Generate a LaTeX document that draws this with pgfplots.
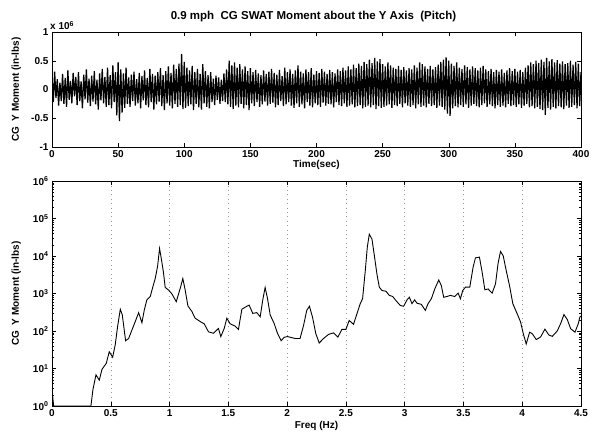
\documentclass[border=0pt]{standalone}
\usepackage{fontspec}
\setmainfont{Liberation Sans}
\usepackage{pgfplots}
\pgfplotsset{compat=1.18}
\begin{document}
\begin{tikzpicture}
\path[use as bounding box] (-52pt,-27pt) rectangle (543pt,406pt);
\pgfplotsset{every axis/.append style={
  font=\fontsize{10}{12}\selectfont\bfseries,
  /pgf/number format/assume math mode=true,
  scale only axis, width=529pt,
  tick style={black, thin}, axis line style={black, thin},
  major tick length=4pt, minor tick length=2pt,
  ylabel style={at={(axis description cs:-0.052,0.5)}, anchor=south, rotate=0},
}}
% ---------------- top: time history ----------------
\begin{axis}[name=top, at={(0pt,259pt)}, anchor=south west, height=115pt,
  xmin=0, xmax=400, ymin=-1, ymax=1,
  xtick={0,50,...,400},
  ytick={-1,-0.5,0,0.5,1}, yticklabels={-1,-0.5,0,0.5,1},
  title={0.9 mph\ \ CG SWAT Moment about the Y Axis\ \ (Pitch)},
  title style={font=\fontsize{11.5}{13}\selectfont\bfseries, yshift=1pt, xshift=-3pt},
  xlabel={Time(sec)}, xlabel style={yshift=4pt},
  ylabel={CG\ \ Y Moment (in-lbs)},
  clip=true]
\addplot[black, line width=1.25pt, line join=miter, miter limit=1] coordinates {
(0,0.25)(1,-0.22)(2,0.31)(3,-0.15)(4,0.18)(5,-0.28)(6,0.12)(7,-0.20)(8,0.27)(9,-0.25)
(10,0.20)(11,-0.30)(12,0.33)(13,-0.18)(14,0.15)(15,-0.24)(16,0.29)(17,-0.12)(18,0.22)(19,-0.27)
(20,0.30)(21,-0.20)(22,0.14)(23,-0.33)(24,0.26)(25,-0.17)(26,0.35)(27,-0.23)(28,0.19)(29,-0.29)
(30,0.24)(31,-0.21)(32,0.32)(33,-0.26)(34,0.17)(35,-0.35)(36,0.28)(37,-0.19)(38,0.36)(39,-0.24)
(40,0.22)(41,-0.30)(42,0.38)(43,-0.27)(44,0.25)(45,-0.33)(46,0.42)(47,-0.22)(48,0.30)(49,-0.45)
(50,0.47)(51,-0.55)(52,0.35)(53,-0.40)(54,0.28)(55,-0.32)(56,0.38)(57,-0.25)(58,0.21)(59,-0.30)
(60,0.26)(61,-0.20)(62,0.31)(63,-0.28)(64,0.18)(65,-0.24)(66,0.29)(67,-0.33)(68,0.23)(69,-0.19)
(70,0.33)(71,-0.27)(72,0.20)(73,-0.31)(74,0.36)(75,-0.22)(76,0.27)(77,-0.35)(78,0.24)(79,-0.26)
(80,0.30)(81,-0.21)(82,0.37)(83,-0.29)(84,0.25)(85,-0.36)(86,0.32)(87,-0.24)(88,0.40)(89,-0.28)
(90,0.29)(91,-0.33)(92,0.43)(93,-0.25)(94,0.36)(95,-0.30)(96,0.45)(97,-0.27)(98,0.62)(99,-0.34)
(100,0.48)(101,-0.32)(102,0.38)(103,-0.29)(104,0.33)(105,-0.26)(106,0.41)(107,-0.36)(108,0.30)(109,-0.25)
(110,0.36)(111,-0.31)(112,0.27)(113,-0.35)(114,0.44)(115,-0.24)(116,0.32)(117,-0.30)(118,0.25)(119,-0.33)
(120,0.30)(121,-0.22)(122,0.19)(123,-0.27)(124,0.24)(125,-0.18)(126,0.21)(127,-0.25)(128,0.17)(129,-0.20)
(130,0.28)(131,-0.22)(132,0.35)(133,-0.26)(134,0.50)(135,-0.30)(136,0.42)(137,-0.34)(138,0.47)(139,-0.28)
(140,0.38)(141,-0.31)(142,0.44)(143,-0.25)(144,0.35)(145,-0.33)(146,0.40)(147,-0.27)(148,0.32)(149,-0.36)
(150,0.37)(151,-0.24)(152,0.30)(153,-0.29)(154,0.34)(155,-0.22)(156,0.28)(157,-0.30)(158,0.25)(159,-0.26)
(160,0.33)(161,-0.21)(162,0.27)(163,-0.28)(164,0.31)(165,-0.25)(166,0.36)(167,-0.23)(168,0.29)(169,-0.31)
(170,0.26)(171,-0.27)(172,0.34)(173,-0.20)(174,0.23)(175,-0.29)(176,0.38)(177,-0.26)(178,0.30)(179,-0.22)
(180,0.35)(181,-0.28)(182,0.27)(183,-0.32)(184,0.33)(185,-0.24)(186,0.42)(187,-0.30)(188,0.31)(189,-0.26)
(190,0.28)(191,-0.33)(192,0.35)(193,-0.22)(194,0.30)(195,-0.28)(196,0.37)(197,-0.31)(198,0.26)(199,-0.24)
(200,0.32)(201,-0.27)(202,0.29)(203,-0.30)(204,0.36)(205,-0.23)(206,0.31)(207,-0.28)(208,0.27)(209,-0.25)
(210,0.34)(211,-0.26)(212,0.30)(213,-0.31)(214,0.28)(215,-0.22)(216,0.35)(217,-0.27)(218,0.32)(219,-0.29)
(220,0.38)(221,-0.24)(222,0.33)(223,-0.30)(224,0.40)(225,-0.28)(226,0.35)(227,-0.26)(228,0.43)(229,-0.31)
(230,0.37)(231,-0.29)(232,0.45)(233,-0.27)(234,0.41)(235,-0.33)(236,0.48)(237,-0.30)(238,0.44)(239,-0.28)
(240,0.52)(241,-0.31)(242,0.46)(243,-0.27)(244,0.55)(245,-0.34)(246,0.49)(247,-0.29)(248,0.53)(249,-0.32)
(250,0.44)(251,-0.30)(252,0.40)(253,-0.28)(254,0.47)(255,-0.26)(256,0.42)(257,-0.32)(258,0.38)(259,-0.27)
(260,0.36)(261,-0.29)(262,0.41)(263,-0.25)(264,0.34)(265,-0.31)(266,0.39)(267,-0.24)(268,0.33)(269,-0.28)
(270,0.37)(271,-0.30)(272,0.35)(273,-0.27)(274,0.42)(275,-0.33)(276,0.38)(277,-0.26)(278,0.47)(279,-0.30)
(280,0.44)(281,-0.28)(282,0.40)(283,-0.31)(284,0.36)(285,-0.25)(286,0.41)(287,-0.29)(288,0.35)(289,-0.27)
(290,0.39)(291,-0.32)(292,0.43)(293,-0.28)(294,0.48)(295,-0.30)(296,0.52)(297,-0.35)(298,0.56)(299,-0.42)
(300,0.50)(301,-0.46)(302,0.45)(303,-0.33)(304,0.41)(305,-0.29)(306,0.47)(307,-0.31)(308,0.38)(309,-0.27)
(310,0.36)(311,-0.30)(312,0.42)(313,-0.26)(314,0.39)(315,-0.32)(316,0.35)(317,-0.28)(318,0.40)(319,-0.25)
(320,0.37)(321,-0.29)(322,0.33)(323,-0.31)(324,0.38)(325,-0.27)(326,0.41)(327,-0.24)(328,0.35)(329,-0.30)
(330,0.32)(331,-0.26)(332,0.36)(333,-0.29)(334,0.30)(335,-0.33)(336,0.34)(337,-0.27)(338,0.31)(339,-0.30)
(340,0.35)(341,-0.28)(342,0.29)(343,-0.31)(344,0.33)(345,-0.25)(346,0.37)(347,-0.29)(348,0.32)(349,-0.27)
(350,0.36)(351,-0.30)(352,0.31)(353,-0.26)(354,0.34)(355,-0.32)(356,0.30)(357,-0.28)(358,0.38)(359,-0.25)
(360,0.42)(361,-0.31)(362,0.47)(363,-0.29)(364,0.44)(365,-0.33)(366,0.50)(367,-0.30)(368,0.46)(369,-0.34)
(370,0.52)(371,-0.36)(372,0.48)(373,-0.44)(374,0.55)(375,-0.32)(376,0.49)(377,-0.35)(378,0.53)(379,-0.30)
(380,0.47)(381,-0.33)(382,0.51)(383,-0.29)(384,0.45)(385,-0.31)(386,0.49)(387,-0.34)(388,0.44)(389,-0.28)
(390,0.46)(391,-0.32)(392,0.50)(393,-0.30)(394,0.43)(395,-0.27)(396,0.48)(397,-0.33)(398,0.45)(399,-0.29)
(400,0.30)
};
\end{axis}
\node[anchor=south west, inner sep=0pt, xshift=-2pt, yshift=2pt] at (top.north west) {\fontsize{10}{12}\selectfont\bfseries x 10\textsuperscript{6}};
% ---------------- bottom: spectrum ----------------
\begin{axis}[at={(0pt,0pt)}, anchor=south west, height=225pt,
  xmin=0, xmax=4.5, ymode=log, ymin=1, ymax=1e6,
  xtick={0,0.5,...,4.5},
  xticklabel style={/pgf/number format/fixed},
  ytick={1,10,100,1000,10000,100000,1000000},
  yticklabels={10\textsuperscript{0},10\textsuperscript{1},10\textsuperscript{2},10\textsuperscript{3},10\textsuperscript{4},10\textsuperscript{5},10\textsuperscript{6}},
  xmajorgrids, major grid style={black!40, loosely dotted, line width=0.4pt},
  xlabel={Freq (Hz)}, xlabel style={yshift=2pt},
  ylabel={CG\ \ Y Moment (in-lbs)},
  clip=true]
\addplot[black, line width=0.9pt] coordinates {
(0,2.2)(0.006,1.8)(0.014,1)(0.32,1)(0.331,1)(0.348,2.7)(0.374,6.8)(0.402,4.9)(0.425,9.5)(0.462,13.8)
(0.487,28)(0.516,20)(0.538,43)(0.558,132)(0.581,380)(0.598,269)(0.626,55)(0.652,63)(0.674,95)(0.708,178)
(0.737,309)(0.765,166)(0.785,363)(0.807,676)(0.836,832)(0.858,1510)(0.878,2510)(0.898,5250)(0.915,15800)(0.932,7760)
(0.949,3470)(0.963,1450)(0.992,1230)(1.020,977)(1.057,603)(1.091,1380)(1.113,2510)(1.133,1230)(1.156,468)(1.190,331)
(1.218,219)(1.261,178)(1.295,155)(1.331,95)(1.374,87)(1.416,117)(1.436,71)(1.465,117)(1.487,219)(1.516,155)
(1.558,135)(1.586,110)(1.615,380)(1.652,447)(1.677,490)(1.708,295)(1.742,309)(1.771,240)(1.793,676)(1.813,1450)
(1.833,741)(1.856,269)(1.890,158)(1.918,87)(1.949,55)(1.975,68)(2.003,71)(2.07,63)(2.11,63)(2.14,141)
(2.167,355)(2.19,457)(2.216,234)(2.244,85)(2.273,48)(2.31,63)(2.352,81)(2.395,89)(2.432,69)(2.466,110)
(2.50,110)(2.528,191)(2.565,151)(2.594,288)(2.622,537)(2.642,724)(2.665,4070)(2.682,17000)(2.699,38000)(2.722,28200)
(2.744,9330)(2.764,3310)(2.784,1480)(2.807,1200)(2.841,1150)(2.869,891)(2.898,832)(2.926,646)(2.963,479)(2.991,457)
(3.020,676)(3.040,794)(3.062,537)(3.085,676)(3.105,550)(3.142,513)(3.176,355)(3.199,537)(3.227,724)(3.256,1320)
(3.290,2290)(3.312,1620)(3.332,794)(3.361,832)(3.389,891)(3.426,832)(3.455,1020)(3.474,724)(3.494,1200)(3.517,1480)
(3.554,1480)(3.582,5010)(3.602,8910)(3.636,9330)(3.659,3720)(3.682,1260)(3.71,1320)(3.744,1020)(3.773,1820)(3.795,6460)
(3.815,13200)(3.838,10200)(3.864,4070)(3.892,1620)(3.92,537)(3.957,288)(3.986,174)(4.009,85)(4.034,45)(4.063,93)
(4.085,85)(4.119,59)(4.156,69)(4.193,112)(4.227,78)(4.256,72)(4.298,100)(4.327,158)(4.355,275)(4.384,200)
(4.412,115)(4.449,93)(4.477,158)(4.49,234)(4.5,250)
};
\end{axis}
\end{tikzpicture}
\end{document}
